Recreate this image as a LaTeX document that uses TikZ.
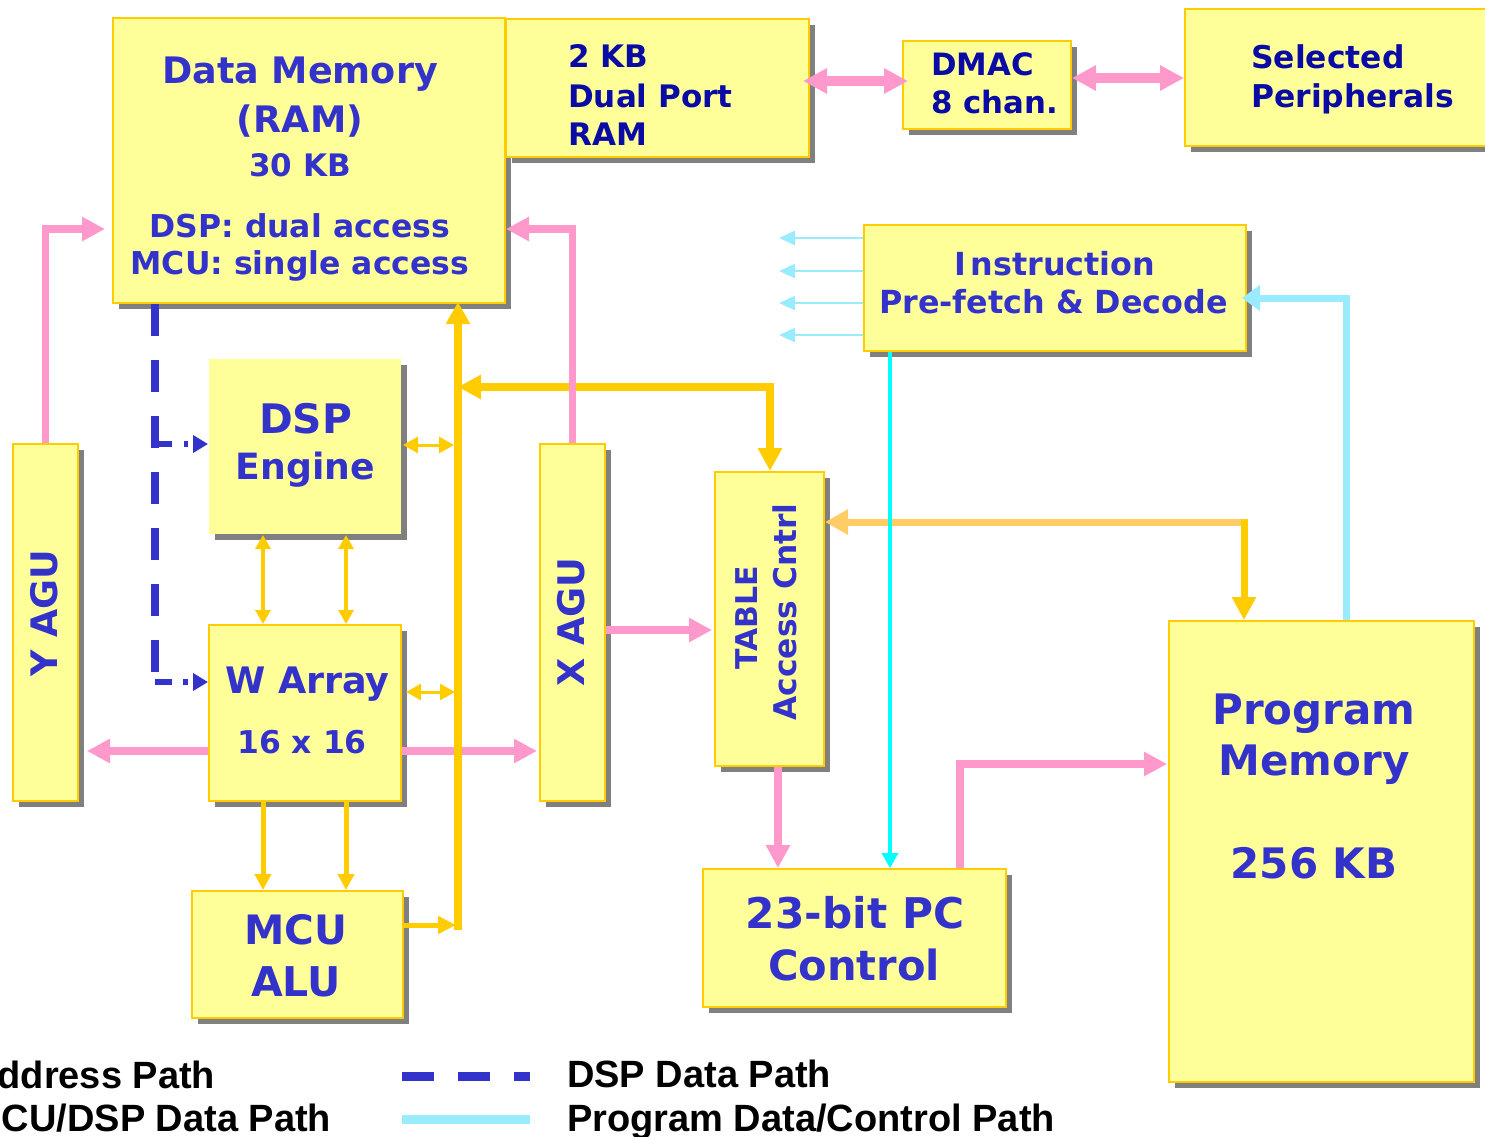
\documentclass[tikz,border=0pt]{standalone}
\usepackage{fontspec}
\setmainfont{DejaVu Sans}
\newfontfamily\legfont{Liberation Sans}
\usetikzlibrary{arrows.meta,shadows}

\definecolor{boxfill}{HTML}{FFFF99}
\definecolor{boxline}{HTML}{FFCC00}
\definecolor{shade}{HTML}{808080}
\definecolor{addrpink}{HTML}{FF99CC}
\definecolor{busgold}{HTML}{FFCC00}
\definecolor{paleorange}{HTML}{FFCC66}
\definecolor{ctrlcyan}{HTML}{00FFFF}
\definecolor{progcyan}{HTML}{99EBFF}
\definecolor{txtblue}{HTML}{3333CC}
\definecolor{txtnavy}{HTML}{0A0AA5}

\newcommand\fsz[1]{\fontsize{#1}{#1}\selectfont}

\begin{document}
\begin{tikzpicture}[x=1pt,y=-1pt,
  blk/.style={draw=boxline, line width=2pt, fill=boxfill, inner sep=0pt, anchor=north west,
    general shadow={fill=shade, shadow xshift=5.5pt, shadow yshift=-5.5pt}},
  lbl/.style={text=txtblue, inner sep=0pt, anchor=base},
  nlbl/.style={text=txtnavy, inner sep=0pt, anchor=base west},
  leg/.style={text=black, inner sep=0pt, anchor=base west, font=\legfont\bfseries\fsz{38}},
  pk/.style={draw=addrpink, line width=7.5pt, -{Triangle[length=23pt,width=23pt]}},
  pkdbl/.style={draw=addrpink, line width=10pt,
    {Triangle[length=24pt,width=24pt]}-{Triangle[length=24pt,width=24pt]}},
  busln/.style={draw=busgold, line width=8pt},
  goldthin/.style={draw=busgold, line width=3pt,
    {Triangle[length=15pt,width=16pt]}-{Triangle[length=15pt,width=16pt]}},
  goldpair/.style={draw=busgold, line width=4.5pt,
    {Triangle[length=14pt,width=15pt]}-{Triangle[length=14pt,width=15pt]}},
  golddown/.style={draw=busgold, line width=5pt, -{Triangle[length=16pt,width=16pt]}},
  ctrl/.style={draw=ctrlcyan, line width=3.5pt, -{Triangle[length=15pt,width=16pt]}},
  prog/.style={draw=progcyan, line width=7pt, -{Triangle[length=18pt,width=25pt]}},
  progthin/.style={draw=progcyan, line width=2.5pt, -{Triangle[length=16pt,width=14pt]}},
  dspd/.style={draw=txtblue, line width=8pt, dash pattern=on 32pt off 24pt},
]
\useasboundingbox (0,0) rectangle (1485,1136);
\clip (0,0) rectangle (1485,1136);

% ---------- blocks ----------
\node[blk, minimum width=392pt, minimum height=285pt] (dm)   at (112,17)  {};
\node[blk, minimum width=303pt, minimum height=138pt] (dpr)  at (505,18)  {};
\node[blk, minimum width=168pt, minimum height=88pt]  (dmac) at (902,40)  {};
\node[blk, minimum width=320pt, minimum height=137pt] (per)  at (1184,8)  {};
\node[blk, minimum width=382pt, minimum height=126pt] (ipd)  at (863,224) {};
\node[blk, draw=none, minimum width=192pt, minimum height=175pt] (dsp) at (208,358) {};
\node[blk, minimum width=192pt, minimum height=176pt] (wa)   at (208,624) {};
\node[blk, minimum width=211pt, minimum height=127pt] (alu)  at (191,890) {};
\node[blk, minimum width=65pt,  minimum height=357pt] (yagu) at (12,443)  {};
\node[blk, minimum width=65pt,  minimum height=357pt] (xagu) at (539,443) {};
\node[blk, minimum width=109pt, minimum height=294pt] (tbl)  at (714,471) {};
\node[blk, minimum width=303pt, minimum height=138pt] (pc)   at (702,868) {};
\node[blk, minimum width=305pt, minimum height=461pt] (pm)   at (1168,620) {};

% ---------- helper rows / columns ----------
\coordinate (rowA)  at (0,229);
\coordinate (rowW)  at (0,751);
\coordinate (rowX)  at (0,630);
\coordinate (colT)  at (778,0);
\coordinate (colP)  at (960,0);
\coordinate (rowP)  at (0,764);
\coordinate (rowD1) at (0,81);
\coordinate (rowD2) at (0,78);
\coordinate (busB)  at (458,930);
\coordinate (colBus) at (458,0);
\coordinate (rowAlu) at (0,925);
\coordinate (rowDsp) at (0,445);
\coordinate (rowWa) at (0,692);
\coordinate (colL)  at (263,0);
\coordinate (colR)  at (346,0);
\coordinate (rowT)  at (0,387);
\coordinate (colTT) at (770,0);
\coordinate (tpCorner) at (1244,522);
\coordinate (tpTop) at (1244,518.5);
\coordinate (colI)  at (890,0);
\coordinate (colC)  at (1346,0);
\coordinate (rowC)  at (0,298);
\coordinate (colD)  at (155,0);
\coordinate (dEnd)  at (155,672);
\coordinate (dk1)   at (151,444);
\coordinate (dk2)   at (155,682);
\coordinate (f1) at (779,238);
\coordinate (f2) at (779,271);
\coordinate (f3) at (779,303);
\coordinate (f4) at (779,335);

% ---------- MCU/DSP data path (gold) ----------
\draw[busln, {Triangle[length=23pt,width=23pt]}-{Triangle[length=23pt,width=23pt]}]
  (colBus |- rowT) -| (tbl.north -| colTT);
\draw[draw=paleorange, line width=7pt, -{Triangle[length=23pt,width=24pt]}]
  (tpCorner) -- (tbl.east |- tpCorner);
\draw[draw=busgold, line width=7pt, -{Triangle[length=23pt,width=23pt]}]
  (tpTop) -- (pm.north -| tpTop);

% ---------- address path (pink) ----------
\draw[pk, shorten >=7pt] (yagu.north) |- (dm.west |- rowA);
\draw[pk] (xagu.north) |- (dm.east |- rowA);
\draw[pk, shorten >=8pt] (wa.west |- rowW) -- (yagu.east |- rowW);
\draw[pk, shorten >=2pt] (wa.east |- rowW) -- (xagu.west |- rowW);
\draw[pk, shorten >=2pt] (xagu.east |- rowX) -- (tbl.west |- rowX);
\draw[pk] (tbl.south -| colT) -- (pc.north -| colT);
\draw[pk, shorten >=1pt] (pc.north -| colP) |- (pm.west |- rowP);
\draw[pkdbl, shorten <=-7pt, shorten >=-6pt] (dpr.east |- rowD1) -- (dmac.west |- rowD1);
\draw[pkdbl] (dmac.east |- rowD2) -- (per.west |- rowD2);

% ---------- central bus and its taps ----------
\draw[busln, -{Triangle[length=22pt,width=23pt]}, shorten >=-2pt] (busB) -- (dm.south -| colBus);
\draw[draw=busgold, line width=5pt, -{Triangle[length=18pt,width=17pt]}, shorten >=2pt]
  (alu.east |- rowAlu) -- (colBus |- rowAlu);
\draw[goldthin, shorten <=1pt, shorten >=4pt] (dsp.east |- rowDsp) -- (colBus |- rowDsp);
\draw[goldthin, shorten <=4pt, shorten >=3pt] (wa.east |- rowWa) -- (colBus |- rowWa);
\draw[goldpair] (dsp.south -| colL) -- (wa.north -| colL);
\draw[goldpair] (dsp.south -| colR) -- (wa.north -| colR);
\draw[golddown] (wa.south -| colL) -- (alu.north -| colL);
\draw[golddown] (wa.south -| colR) -- (alu.north -| colR);

% ---------- program data / control (cyan) ----------
\draw[ctrl] (ipd.south -| colI) -- (pc.north -| colI);
\draw[prog, shorten >=-5pt] (pm.north -| colC) |- (ipd.east |- rowC);
\draw[progthin] (ipd.west |- f1) -- (f1);
\draw[progthin] (ipd.west |- f2) -- (f2);
\draw[progthin] (ipd.west |- f3) -- (f3);
\draw[progthin] (ipd.west |- f4) -- (f4);

% ---------- DSP data path (dashed blue) ----------
\draw[dspd] (dm.south -| colD) -- (dEnd);
\draw[draw=txtblue, line width=6pt, dash pattern=on 21pt off 12pt on 4pt off 40pt,
  -{Triangle[length=15pt,width=17pt]}] (dk1) -- (dsp.west |- dk1);
\draw[draw=txtblue, line width=6pt, dash pattern=on 17pt off 11pt on 5pt off 40pt,
  -{Triangle[length=15pt,width=17pt]}] (dk2) -- (wa.west |- dk2);

% ---------- block texts ----------
\node[lbl, font=\bfseries\fsz{36.5}] (dmA) at (300,83)  {Data Memory};
\node[lbl, font=\bfseries\fsz{36.5}] (dmB) at (300,132) {(RAM)};
\node[lbl, font=\bfseries\fsz{31}]   (dmC) at (300,176) {30 KB};
\node[lbl, font=\bfseries\fsz{31.5}] (dmD) at (300,237) {DSP: dual access};
\node[lbl, font=\bfseries\fsz{31.5}] (dmE) at (300,274) {MCU: single access};

\node[nlbl, font=\bfseries\fsz{31}] (dprA) at (568,67)  {2 KB};
\node[nlbl, font=\bfseries\fsz{31}] (dprB) at (568,107) {Dual Port};
\node[nlbl, font=\bfseries\fsz{31}] (dprC) at (568,145) {RAM};

\node[nlbl, font=\bfseries\fsz{30.8}] (dmacA) at (931,75)  {DMAC};
\node[nlbl, font=\bfseries\fsz{30.8}] (dmacB) at (931,113) {8 chan.};

\node[nlbl, font=\bfseries\fsz{31.4}] (perA) at (1251,68)  {Selected};
\node[nlbl, font=\bfseries\fsz{31.4}] (perB) at (1251,107) {Peripherals};

\node[lbl, font=\bfseries\fsz{31.8}] (ipdA) at (1055,275)   {I\kern4pt nstruction};
\node[lbl, font=\bfseries\fsz{31.8}] (ipdB) at (1053.5,313) {Pre-fetch \& Decode};

\node[lbl, font=\bfseries\fsz{40.7}] (dspA) at (305.5,433) {DSP};
\node[lbl, font=\bfseries\fsz{36.2}] (dspB) at (305.5,479) {Engine};

\node[lbl, font=\bfseries\fsz{36.5}] (waA) at (307.5,693) {W Array};
\node[lbl, font=\bfseries\fsz{31.4}] (waB) at (302,753)   {16 x 16};

\node[lbl, font=\bfseries\fsz{40.5}] (aluA) at (296,944) {MCU};
\node[lbl, font=\bfseries\fsz{41}]   (aluB) at (296,996) {ALU};

\node[lbl, rotate=90, font=\bfseries\fsz{36.5}] (yaguT) at (57,613)  {Y AGU};
\node[lbl, rotate=90, font=\bfseries\fsz{36.7}] (xaguT) at (584,622) {X AGU};
\node[lbl, rotate=90, font=\bfseries\fsz{30}]   (tblA)  at (757,618) {TABLE};
\node[lbl, rotate=90, font=\bfseries\fsz{31.3}] (tblB)  at (796,612) {Access Cntrl};

\node[lbl, font=\bfseries\fsz{42.3}] (pcA) at (855,928) {23-bit PC};
\node[lbl, font=\bfseries\fsz{41.6}] (pcB) at (854,980) {Control};

\node[lbl, font=\bfseries\fsz{42}] (pmA) at (1314,724) {Program};
\node[lbl, font=\bfseries\fsz{42}] (pmB) at (1314,775) {Memory};
\node[lbl, font=\bfseries\fsz{42}] (pmC) at (1314,878) {256 KB};

% ---------- legend ----------
\coordinate (lgA1) at (402,1076);
\coordinate (lgA2) at (530,1076);
\coordinate (lgB1) at (402,1119);
\coordinate (lgB2) at (530,1119);
\draw[draw=txtblue, line width=9pt, dash pattern=on 32pt off 24pt] (lgA1) -- (lgA2);
\draw[draw=progcyan, line width=9pt] (lgB1) -- (lgB2);
\node[leg] (lgT1) at (-30,1088) {Address Path};
\node[leg] (lgT2) at (-30,1131) {MCU/DSP Data Path};
\node[leg] (lgT3) at (567,1087) {DSP Data Path};
\node[leg] (lgT4) at (567,1131) {Program Data/Control Path};
\end{tikzpicture}
\end{document}
